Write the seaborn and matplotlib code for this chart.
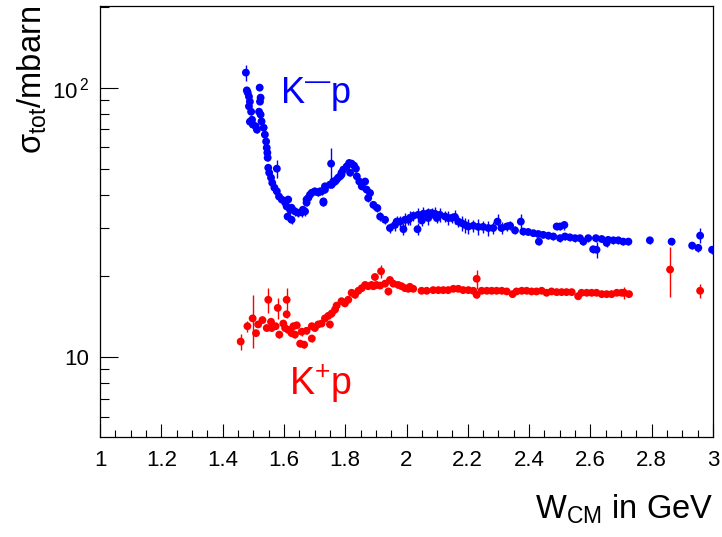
import matplotlib
matplotlib.use("Agg")
import matplotlib.pyplot as plt
import numpy as np
import pandas as pd
import seaborn as sns
from matplotlib.ticker import FixedLocator, MultipleLocator, NullFormatter, FuncFormatter, FixedFormatter

# ---------------- data: K- p total cross section ----------------
km_w = [1.476, 1.479, 1.482, 1.486, 1.489, 1.486, 1.493, 1.489, 1.496, 1.499, 1.508, 1.512, 1.521, 1.524,
        1.522, 1.519, 1.524, 1.527, 1.534, 1.538, 1.542, 1.544, 1.546, 1.547, 1.549, 1.552, 1.558,
        1.562, 1.569, 1.577, 1.577, 1.584, 1.593, 1.604, 1.609, 1.614, 1.612, 1.620, 1.625, 1.625, 1.636,
        1.647, 1.658, 1.662, 1.669, 1.674, 1.674, 1.680, 1.685, 1.691, 1.701, 1.712, 1.718, 1.723, 1.729,
        1.729, 1.734, 1.734,
        1.750, 1.754, 1.756, 1.761, 1.767, 1.772, 1.777, 1.783, 1.788, 1.788, 1.794, 1.805, 1.813, 1.816,
        1.821, 1.829, 1.835, 1.838, 1.846, 1.854, 1.865, 1.870, 1.875, 1.881, 1.892, 1.905, 1.914, 1.930,
        1.946,
        1.962, 1.968, 1.979, 1.990, 1.995, 2.006, 2.011, 2.022, 2.036, 2.038, 2.050, 2.055, 2.071, 2.071,
        2.082, 2.093, 2.099, 2.109, 2.126, 2.136, 2.147, 2.158, 2.169, 2.180, 2.191, 2.202, 2.218, 2.234,
        2.250, 2.267, 2.283, 2.297, 2.310, 2.327, 2.338,
        2.354, 2.373, 2.381, 2.397, 2.414, 2.430, 2.432, 2.446, 2.463, 2.479, 2.490, 2.501, 2.515, 2.501,
        2.517, 2.533, 2.550, 2.566, 2.577, 2.593, 2.609, 2.620, 2.618, 2.637, 2.653, 2.658, 2.675, 2.691,
        2.707, 2.724, 2.794, 2.865, 2.932, 2.952, 2.958, 2.997]
km_sigma = [113.7, 97.7, 95.8, 92.6, 88.7, 85.2, 81.4, 74.7, 76.0, 72.9, 71.8, 69.8, 100.0, 91.8,
            88.7, 81.4, 79.4, 74.9, 71.0, 66.9, 63.1, 59.8, 57.3, 54.9, 50.4, 48.3, 46.3,
            44.3, 42.5, 41.2, 50.0, 39.4, 38.4, 37.4, 36.2, 38.4, 33.2, 35.2, 35.8, 32.3, 34.7,
            34.3, 34.4, 35.2, 34.7, 37.4, 38.4, 39.0, 40.0, 40.7, 41.2, 40.8, 41.2, 41.2, 37.8,
            37.4, 41.8, 43.0,
            43.6, 52.2, 43.6, 44.8, 44.8, 45.5, 46.3, 46.8, 47.5, 48.3, 49.6, 51.0, 52.5, 48.3,
            52.2, 51.3, 50.0, 46.8, 44.8, 43.0, 44.8, 41.8, 38.9, 40.6, 36.7, 35.7, 33.2, 32.3,
            30.1,
            30.9, 31.8, 31.8, 29.8, 32.3, 32.3, 32.8, 33.4, 29.8, 33.7, 32.1, 34.0, 34.2, 32.8,
            34.2, 34.0, 32.8, 33.7, 33.2, 32.8, 32.8, 33.1, 31.8, 31.4, 30.9, 30.5, 30.7, 30.4,
            30.4, 30.1, 30.1, 31.8, 30.1, 30.5, 30.7,
            29.5, 31.8, 29.2, 29.1, 28.8, 28.6, 26.8, 28.4, 28.2, 28.0, 30.5, 30.5, 30.9, 27.6,
            28.0, 27.8, 27.6, 27.6, 26.8, 27.6, 25.1, 25.0, 27.6, 27.4, 26.5, 27.2, 27.1, 27.1,
            26.8, 26.8, 27.1, 26.8, 25.9, 25.4, 28.2, 25.0]
km_err = [7.5, 2.0, 2.0, 2.0, 2.0, 2.0, 2.0, 3.0, 2.0, 2.0, 2.0, 1.8, 2.0, 2.0,
          2.0, 2.0, 2.0, 1.8, 1.8, 1.6, 1.5, 1.5, 1.4, 1.4, 1.3, 1.2, 1.2,
          1.2, 1.2, 1.2, 4.0, 1.2, 1.2, 1.2, 1.2, 1.2, 1.2, 1.2, 1.2, 1.2, 1.2,
          1.2, 1.2, 1.2, 1.2, 1.2, 1.2, 1.2, 1.2, 1.2, 1.2, 1.2, 1.2, 1.2, 1.2,
          1.2, 1.2, 1.2,
          1.2, 7.5, 1.2, 1.2, 1.2, 1.2, 1.2, 1.2, 1.2, 1.2, 1.2, 1.3, 1.3, 1.3,
          1.3, 1.3, 1.3, 1.2, 1.2, 1.2, 1.2, 1.2, 1.2, 1.2, 1.2, 1.2, 1.2, 1.2,
          1.2,
          1.5, 1.5, 1.5, 1.5, 2.0, 1.5, 2.0, 1.5, 1.5, 2.0, 1.5, 2.0, 1.5, 2.0,
          1.5, 2.0, 1.5, 2.0, 1.5, 2.0, 1.5, 2.0, 1.5, 2.0, 2.0, 2.0, 1.5, 2.0,
          1.5, 2.0, 1.5, 2.0, 1.5, 1.2, 1.2,
          1.0, 2.2, 0.8, 0.8, 0.8, 0.8, 0.8, 0.8, 0.8, 0.8, 0.9, 0.9, 1.2, 0.8,
          0.8, 0.8, 0.8, 0.8, 0.8, 0.8, 0.8, 1.8, 0.8, 0.8, 0.8, 0.8, 0.8, 0.8,
          0.8, 0.8, 0.8, 0.8, 0.8, 0.8, 1.8, 0.8]

# ---------------- data: K+ p total cross section ----------------
kp_w = [1.459, 1.481, 1.498, 1.509, 1.516, 1.530, 1.544, 1.549, 1.558, 1.560, 1.573, 1.580, 1.585, 1.598,
        1.604, 1.609, 1.609, 1.614, 1.625, 1.631, 1.636, 1.642, 1.653, 1.658, 1.666, 1.674, 1.691, 1.691,
        1.701, 1.712, 1.723, 1.734, 1.745, 1.750,
        1.756, 1.767, 1.772, 1.788, 1.799, 1.810, 1.821, 1.832, 1.843, 1.854, 1.865, 1.875, 1.886, 1.892,
        1.897, 1.902, 1.914, 1.917, 1.930, 1.941, 1.946, 1.957, 1.973, 1.984, 1.995, 2.006, 2.011, 2.022,
        2.049,
        2.066, 2.087, 2.104, 2.120, 2.136, 2.153, 2.169, 2.185, 2.202, 2.218, 2.229, 2.229, 2.245, 2.262,
        2.278, 2.294, 2.311, 2.327, 2.346, 2.359, 2.376, 2.392, 2.408, 2.424, 2.441, 2.457, 2.473, 2.490,
        2.506, 2.522, 2.539, 2.560, 2.571, 2.588, 2.604, 2.620, 2.637, 2.653, 2.669, 2.686, 2.702, 2.710,
        2.726, 2.860, 2.958]
kp_sigma = [11.4, 13.0, 13.9, 12.25, 13.2, 13.7, 12.8, 16.3, 13.5, 12.8, 13.0, 15.2, 12.1, 13.3,
            12.8, 16.3, 14.4, 12.6, 12.25, 13.0, 12.1, 13.1, 11.2, 12.4, 11.1, 12.5, 13.0, 11.7,
            12.8, 13.2, 13.3, 13.9, 14.2, 13.2,
            14.5, 15.0, 15.5, 16.1, 15.8, 16.3, 17.3, 17.0, 17.6, 18.0, 18.5, 18.3, 18.5, 18.3,
            19.8, 18.5, 18.4, 20.8, 18.7, 17.5, 19.3, 18.7, 18.5, 18.3, 18.0, 17.9, 18.2, 17.9,
            17.6,
            17.6, 17.7, 17.7, 17.7, 17.7, 17.9, 17.9, 17.7, 17.7, 17.6, 19.5, 17.0, 17.6, 17.6,
            17.6, 17.6, 17.6, 17.5, 17.1, 17.5, 17.6, 17.6, 17.5, 17.5, 17.6, 17.3, 17.5, 17.4,
            17.4, 17.4, 17.4, 16.8, 17.3, 17.3, 17.3, 17.3, 17.1, 17.1, 17.1, 17.3, 17.3, 17.3,
            17.1, 21.1, 17.6]
kp_err = [0.8, 0.6, 3.1, 0.3, 0.3, 0.3, 0.3, 1.8, 0.3, 0.3, 0.3, 1.4, 0.3, 0.3,
          0.3, 1.8, 0.4, 0.3, 0.3, 0.3, 0.3, 0.3, 0.3, 0.4, 0.3, 0.3, 0.3, 0.3,
          0.3, 0.3, 0.3, 0.3, 0.3, 0.4,
          0.4, 0.4, 0.4, 0.4, 0.4, 0.4, 0.4, 0.4, 0.4, 0.4, 0.4, 0.4, 0.4, 0.4,
          0.5, 0.5, 0.4, 1.1, 0.4, 0.5, 0.4, 0.4, 0.4, 0.4, 0.4, 0.4, 0.4, 0.4,
          0.4,
          0.3, 0.3, 0.3, 0.3, 0.3, 0.3, 0.3, 0.3, 0.3, 0.3, 1.6, 0.4, 0.3, 0.3,
          0.3, 0.3, 0.3, 0.3, 0.3, 0.3, 0.3, 0.3, 0.3, 0.3, 0.3, 0.3, 0.3, 0.3,
          0.3, 0.3, 0.3, 0.4, 0.3, 0.3, 0.3, 0.3, 0.3, 0.3, 0.3, 0.3, 0.3, 0.9,
          0.3, 4.4, 1.1]

x_ticks = [1.0, 1.2, 1.4, 1.6, 1.8, 2.0, 2.2, 2.4, 2.6, 2.8, 3.0]
y_ticks = [10, 100]
y_tick_labels = ["10", "10$^{\\,2}$"]
y_minor = [6, 7, 8, 9, 20, 30, 40, 50, 60, 70, 80, 90, 200]

BLUE = "#0000ff"
RED = "#ff0000"

# ---------------- style ----------------
sns.set_theme(style="white")
plt.rcParams["font.family"] = ["Liberation Sans", "DejaVu Sans"]
plt.rcParams["mathtext.fontset"] = "custom"
plt.rcParams["mathtext.rm"] = "Liberation Sans"
plt.rcParams["mathtext.it"] = "Liberation Sans:italic"
plt.rcParams["mathtext.bf"] = "Liberation Sans:bold"

fig = plt.figure(figsize=(7.22, 5.37), dpi=100)
fig.patch.set_facecolor("white")
ax = fig.add_axes([100 / 722, 1 - 437 / 537, 613 / 722, 431 / 537])
ax.set_facecolor("white")

km = pd.DataFrame({"W": km_w, "sigma": km_sigma, "err": km_err})
kp = pd.DataFrame({"W": kp_w, "sigma": kp_sigma, "err": kp_err})

for df, col in ((km, BLUE), (kp, RED)):
    ax.errorbar(df["W"], df["sigma"], yerr=df["err"], fmt="none", ecolor=col,
                elinewidth=1.0, capsize=0, zorder=2)
    sns.scatterplot(data=df, x="W", y="sigma", ax=ax, color=col, s=32,
                    linewidth=0, edgecolor="none", zorder=3, legend=False)

ax.set_yscale("log")
ax.set_xlim(1.0, 3.0)
ax.set_ylim(5.04, 201)

ax.xaxis.set_major_locator(FixedLocator(x_ticks))
ax.xaxis.set_minor_locator(MultipleLocator(0.05))
ax.xaxis.set_major_formatter(FuncFormatter(lambda v, p: f"{v:g}"))
ax.yaxis.set_major_locator(FixedLocator(y_ticks))
ax.yaxis.set_major_formatter(FixedFormatter(y_tick_labels))
ax.yaxis.set_minor_locator(FixedLocator(y_minor))
ax.yaxis.set_minor_formatter(NullFormatter())

ax.tick_params(axis="x", which="major", direction="in", length=9.5, width=0.8,
               labelsize=16, pad=9, colors="black", bottom=True, top=False)
ax.tick_params(axis="x", which="minor", direction="in", length=4.7, width=0.8,
               bottom=True, top=False, colors="black")
ax.tick_params(axis="y", which="major", direction="in", length=13.2, width=0.8,
               labelsize=16, pad=8, colors="black", left=True, right=False)
ax.tick_params(axis="y", which="minor", direction="in", length=6.6, width=0.8,
               left=True, right=False, colors="black")
for sp in ax.spines.values():
    sp.set_color("black")
    sp.set_linewidth(0.9)

ax.set_xlabel(r"W$_{\mathregular{CM}}$ in GeV", fontsize=23.5, loc="right", color="black")
ax.xaxis.set_label_coords(1.0, -0.13)
ax.set_ylabel(r"$\mathregular{\sigma_{tot}}$/mbarn", fontsize=23.5, loc="top", color="black")
ax.yaxis.set_label_coords(-0.083, 1.0)

ax.text(1.588, 88.0, "K$^{\\mathregular{\u2014}}$p", color=BLUE, fontsize=26, ha="left", va="baseline")
ax.text(1.618, 7.22, "K$^{\\mathregular{+}}$p", color=RED, fontsize=27, ha="left", va="baseline")

fig.savefig("out.png", dpi=100, facecolor="white")
